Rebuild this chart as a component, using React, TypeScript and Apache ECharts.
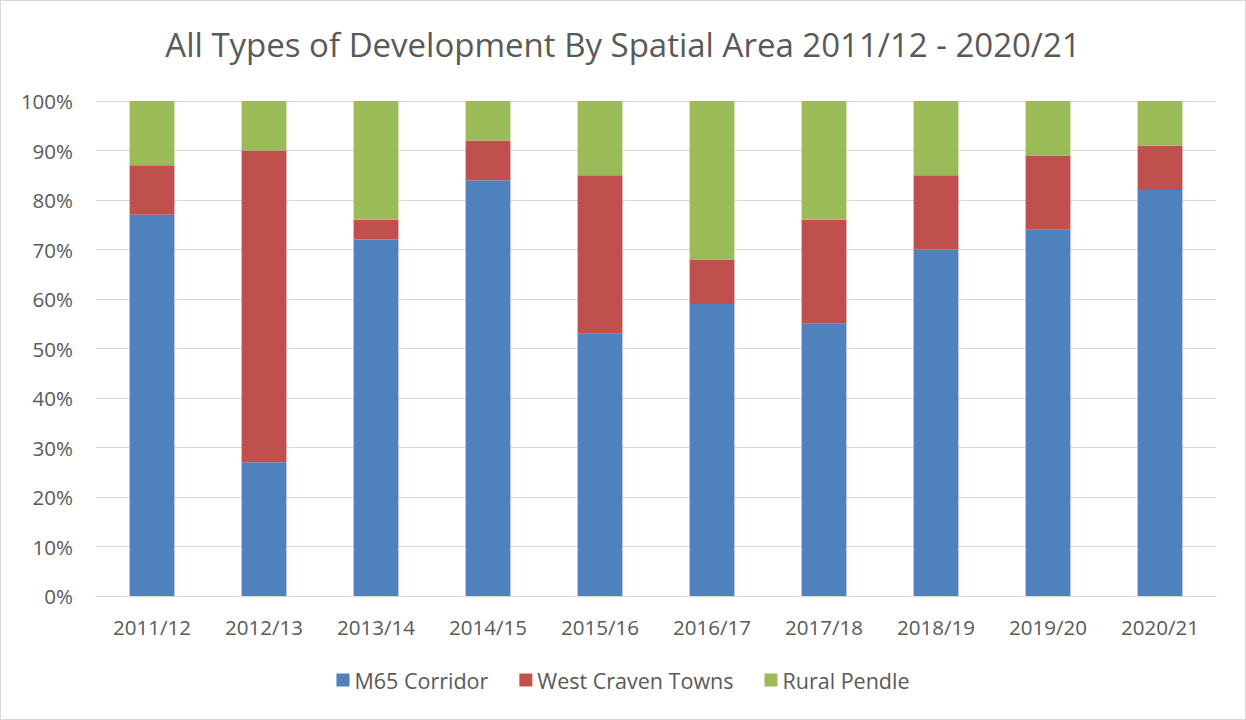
import React, { useEffect, useRef } from "react";
import * as echarts from "echarts";

const categories = ["2011/12", "2012/13", "2013/14", "2014/15", "2015/16", "2016/17", "2017/18", "2018/19", "2019/20", "2020/21"];
const m65Corridor = [77, 27, 72, 84, 53, 59, 55, 70, 74, 82];
const westCravenTowns = [10, 63, 4, 8, 32, 9, 21, 15, 15, 9];
const ruralPendle = [13, 10, 24, 8, 15, 32, 24, 15, 11, 9];
const seriesNames = ["M65 Corridor", "West Craven Towns", "Rural Pendle"];
const colors = ["#4F81BD", "#C0504D", "#9BBB59"];

export default function App() {
  const ref = useRef<HTMLDivElement>(null);
  useEffect(() => {
    if (!ref.current) return;
    const chart = echarts.init(ref.current, undefined, { renderer: "svg" });
    const font = "'Open Sans', Lato, sans-serif";
    const data = [m65Corridor, westCravenTowns, ruralPendle];
    chart.setOption({
      animation: false,
      backgroundColor: "#ffffff",
      textStyle: { fontFamily: font },
      title: {
        text: "All Types of Development By Spatial Area 2011/12 - 2020/21",
        left: "center",
        top: 22,
        textStyle: { color: "#595959", fontSize: 33, fontWeight: "normal", fontFamily: font },
      },
      legend: {
        bottom: 23,
        left: "center",
        itemWidth: 13,
        itemHeight: 13,
        itemGap: 31,
        itemStyle: { borderWidth: 0 },
        icon: "rect",
        textStyle: { color: "#595959", fontSize: 21.5, fontFamily: font },
        data: seriesNames,
      },
      grid: { left: 95, right: 29, top: 100, bottom: 123 },
      xAxis: {
        type: "category",
        data: categories,
        axisLine: { lineStyle: { color: "#D9D9D9", width: 1 } },
        axisTick: { show: false },
        axisLabel: { color: "#595959", fontSize: 20.5, margin: 20, fontFamily: font },
      },
      yAxis: {
        type: "value",
        min: 0,
        max: 100,
        interval: 10,
        axisLine: { show: false },
        axisTick: { show: false },
        splitLine: { lineStyle: { color: "#D9D9D9", width: 1 } },
        axisLabel: { color: "#595959", fontSize: 20.5, margin: 23, formatter: "{value}%", fontFamily: font },
      },
      series: seriesNames.map((name, i) => ({
        name,
        type: "bar",
        stack: "total",
        barWidth: "40%",
        data: data[i],
        itemStyle: { color: colors[i] },
      })),
    });
    return () => chart.dispose();
  }, []);
  return (
    <div
      ref={ref}
      style={{
        position: "fixed",
        left: 0,
        top: 0,
        width: 1246,
        height: 720,
        boxSizing: "border-box",
        border: "1px solid #D9D9D9",
        background: "#fff",
      }}
    />
  );
}
